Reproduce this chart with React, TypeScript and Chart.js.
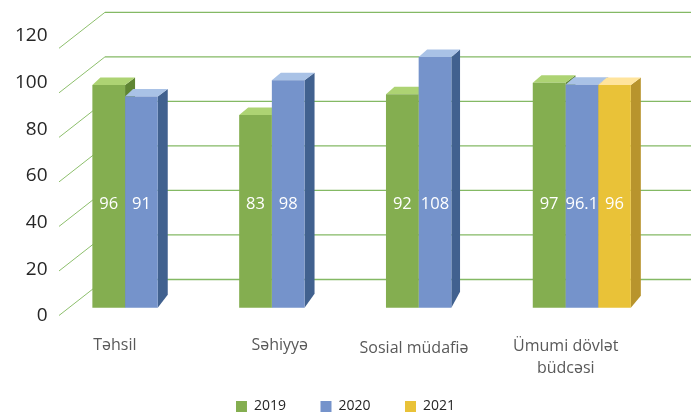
import React, { useEffect, useRef } from "react";
import { Chart, registerables } from "chart.js";

Chart.register(...registerables);

const FONT = '"Open Sans", sans-serif';

const categories = ["Təhsil", "Səhiyyə", "Sosial müdafiə", ["Ümumi dövlət", "büdcəsi"]];
const values2019 = [96, 83, 92, 97];
const values2020 = [91, 98, 108, 96.1];
const values2021 = [null, null, null, 96];
const labelX = [-26.5, -8.5, -21, -16];
const labelY = [0, 0, 3, 1];

const faces = [
  { front: "#84AE50", top: "#ADD373", side: "#5F8533" },
  { front: "#7593CB", top: "#A9C2E6", side: "#41618F" },
  { front: "#E9C238", top: "#FFE49C", side: "#B8942D" },
];
const depthX = [10, 10, 8.7, 10];
const depthLeft = [8, 9, 8.5, 8.7];
const depthTop = 7.5;
const depthBase = [13, 14, 16, 12];
const LABEL_LEVEL = 44.5;

const scene = {
  id: "scene",
  beforeDatasetsDraw(chart: any) {
    const { ctx } = chart;
    const grid = chart.scales.grid;
    ctx.save();
    chart.scales.y.ticks.forEach((t: any) => {
      const y = grid.getPixelForValue(t.value);
      ctx.lineWidth = 1;
      ctx.strokeStyle = "#8DBF6C";
      ctx.beginPath();
      ctx.moveTo(59, y);
      ctx.lineTo(105, y - 36);
      ctx.stroke();
      ctx.lineWidth = 1.3;
      ctx.strokeStyle = "#84B964";
      ctx.beginPath();
      ctx.moveTo(105, y - 36);
      ctx.lineTo(691, y - 36);
      ctx.stroke();
    });
    const n = chart.data.labels.length;
    for (let g = 0; g < n; g++) {
      chart.data.datasets.forEach((_: any, d: number) => {
        const bar = chart.getDatasetMeta(d).data[g];
        const v = chart.data.datasets[d].data[g];
        if (v == null) return;
        const l = bar.x - bar.width / 2;
        const r = bar.x + bar.width / 2;
        const dx = depthX[g];
        const poly = (pts: number[][], c: string) => {
          ctx.fillStyle = c;
          ctx.beginPath();
          pts.forEach((p, i) => (i ? ctx.lineTo(p[0], p[1]) : ctx.moveTo(p[0], p[1])));
          ctx.closePath();
          ctx.fill();
        };
        poly(
          [
            [r, bar.y],
            [r + dx, bar.y - depthTop],
            [r + dx, bar.base - depthBase[g]],
            [r, bar.base],
          ],
          faces[d].side
        );
        poly(
          [
            [l, bar.y],
            [l + depthLeft[g], bar.y - depthTop],
            [r + dx, bar.y - depthTop],
            [r, bar.y],
          ],
          faces[d].top
        );
      });
    }
    ctx.restore();
  },
  afterDatasetsDraw(chart: any) {
    const { ctx } = chart;
    const bars = chart.scales.bars;
    ctx.save();
    ctx.fillStyle = "#FFFFFF";
    ctx.font = `16.5px ${FONT}`;
    ctx.textAlign = "center";
    ctx.textBaseline = "middle";
    chart.data.datasets.forEach((ds: any, d: number) => {
      chart.getDatasetMeta(d).data.forEach((bar: any, i: number) => {
        if (ds.data[i] == null) return;
        ctx.fillText(String(ds.data[i]), bar.x, bars.getPixelForValue(LABEL_LEVEL));
      });
    });
    ctx.restore();
  },
  beforeDraw(chart: any) {
    const legend = chart.legend;
    legend.top = 365;
    legend.bottom = 414;
    legend.left = -4;
    legend.right = 695;
    const scale = chart.scales.x;
    scale.bottom = 414;
    const items = scale.getLabelItems();
    if (!chart.$moved) {
      chart.$moved = true;
      items.forEach((it: any, i: number) => {
        it.options.translation = [
          it.options.translation[0] + labelX[i],
          it.options.translation[1] + labelY[i],
        ];
      });
    }
  },
};

export default function App() {
  const ref = useRef<HTMLCanvasElement>(null);
  useEffect(() => {
    const chart = new Chart(ref.current as HTMLCanvasElement, {
      type: "bar",
      data: {
        labels: categories as any,
        datasets: [
          { label: "2019", data: values2019, backgroundColor: faces[0].front, yAxisID: "bars" },
          { label: "2020", data: values2020, backgroundColor: faces[1].front, yAxisID: "bars" },
          { label: "2021", data: values2021 as any, backgroundColor: faces[2].front, yAxisID: "bars" },
        ],
      },
      options: {
        responsive: false,
        animation: false,
        events: [],
        layout: { autoPadding: false, padding: { top: 36, right: 43.8, left: 0, bottom: 0 } },
        datasets: { bar: { categoryPercentage: 0.668, barPercentage: 1 } },
        scales: {
          x: {
            grid: { display: false, drawTicks: false },
            border: { display: false },
            afterFit: (s: any) => {
              s.height = 98 - (s.chart.legend?.height ?? 0);
            },
            ticks: {
              autoSkip: false,
              maxRotation: 0,
              minRotation: 0,
              padding: 18,
              color: "#595959",
              font: { family: FONT, size: 16, lineHeight: 1.375 },
            },
          },
          y: {
            min: 0,
            max: 120,
            grid: { display: false, drawTicks: false },
            border: { display: false },
            afterFit: (s: any) => {
              s.width = 68;
            },
            ticks: {
              stepSize: 20,
              padding: 20.5,
              color: "#262626",
              font: { family: FONT, size: 19 },
            },
          },
          bars: { axis: "y", display: false, min: -3.58, max: 117.1 },
          grid: { axis: "y", display: false, min: -0.22, max: 125.52 },
        },
        plugins: {
          tooltip: { enabled: false },
          legend: {
            position: "bottom",
            labels: {
              boxWidth: 11,
              boxHeight: 11,
              padding: 34.5,
              color: "#262626",
              font: { family: FONT, size: 14 },
            },
          },
        },
      },
      plugins: [scene],
    } as any);
    return () => chart.destroy();
  }, []);
  return (
    <canvas
      ref={ref}
      width={699}
      height={414}
      style={{ display: "block", position: "absolute", left: 0, top: 0 }}
    />
  );
}
